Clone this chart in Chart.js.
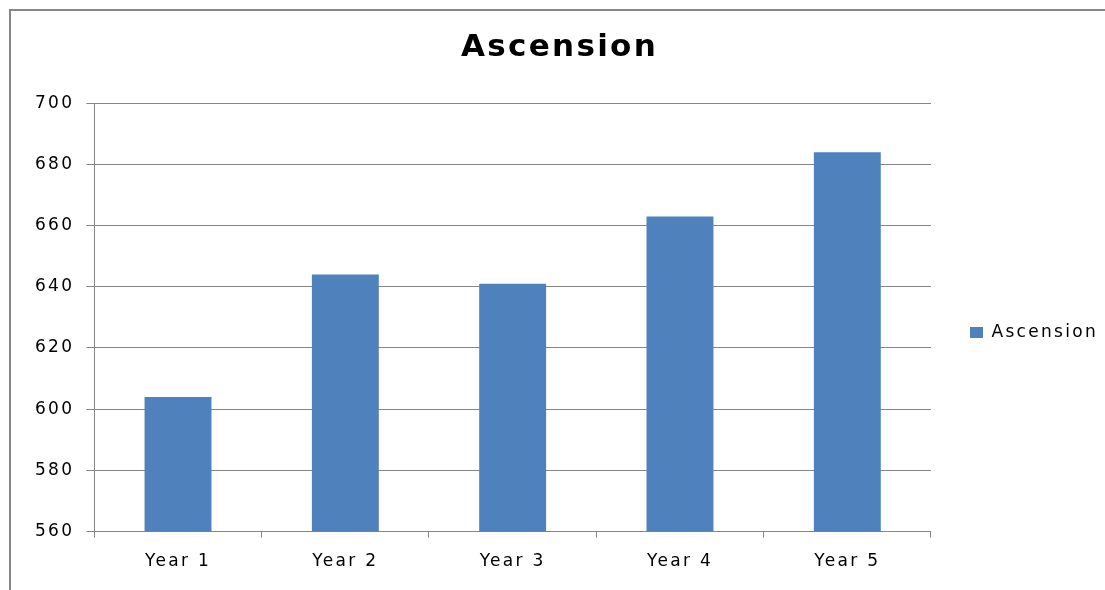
<!DOCTYPE html>
<html>
<head>
<meta charset="utf-8">
<script src="https://cdn.jsdelivr.net/npm/chart.js@4.4.0/dist/chart.umd.min.js"></script>
<style>
    html, body { margin: 0; padding: 0; background: #fff; overflow: hidden; width: 1105px; height: 590px; }
    #moldura {
        position: absolute;
        left: 9px;
        top: 9px;
        width: 1150px;
        height: 640px;
        border-left: 2px solid #868686;
        border-top: 2px solid #868686;
        overflow: hidden;
    }
    canvas { display: block; }
</style>
</head>
<body>
<div id="moldura"><canvas id="grafico" width="1097" height="580"></canvas></div>
<script>
// Dados do gráfico
const anos = ["Year 1", "Year 2", "Year 3", "Year 4", "Year 5"];
const valores = [604, 644, 641, 663, 684];
const nomeSerie = "Ascension";
const eixoMin = 560;
const eixoMax = 700;
const eixoPasso = 20;

Chart.defaults.font.family = "'DejaVu Sans', Verdana, sans-serif";
Chart.defaults.font.size = 17;
Chart.defaults.color = "#000";

// Espaçamento entre letras para todos os textos do canvas
const espacamento = {
    id: "espacamento",
    beforeUpdate(chart) { chart.ctx.letterSpacing = "2.3px"; },
    beforeDraw(chart) { chart.ctx.letterSpacing = "2.3px"; }
};

// Desce a legenda para ficar centrada na altura total do gráfico
const legendaCentro = {
    id: "legendaCentro",
    afterLayout(chart) {
        chart.legend.top += 34;
        chart.legend.bottom += 34;
    }
};

const ctx = document.getElementById("grafico").getContext("2d");
const grafico = new Chart(ctx, {
    type: "bar",
    data: {
        labels: anos,
        datasets: [{
            label: nomeSerie,
            data: valores,
            backgroundColor: "#4F81BD",
            borderWidth: 0,
            barPercentage: 0.4,
            categoryPercentage: 1.0
        }]
    },
    options: {
        responsive: false,
        animation: false,
        devicePixelRatio: 1,
        layout: {
            padding: { top: 0, left: 0, right: 0, bottom: 5 }
        },
        plugins: {
            tooltip: { enabled: false },
            title: {
                display: true,
                text: nomeSerie,
                font: { size: 31, weight: "bold" },
                padding: { top: 18, bottom: 37 }
            },
            legend: {
                position: "right",
                labels: {
                    boxWidth: 13,
                    boxHeight: 11,
                    padding: 39
                }
            }
        },
        scales: {
            x: {
                ticks: { padding: 14 },
                grid: {
                    drawOnChartArea: false,
                    offset: true,
                    tickLength: 6,
                    color: "#868686"
                },
                border: { color: "#868686" }
            },
            y: {
                min: eixoMin,
                max: eixoMax,
                ticks: { stepSize: eixoPasso, padding: 12 },
                grid: {
                    tickLength: 8,
                    color: "#868686"
                },
                border: { color: "#868686" },
                // margem à esquerda dos rótulos do eixo
                afterFit(scale) {
                    scale.width += 12;
                }
            }
        }
    },
    plugins: [espacamento, legendaCentro]
});
</script>
</body>
</html>
